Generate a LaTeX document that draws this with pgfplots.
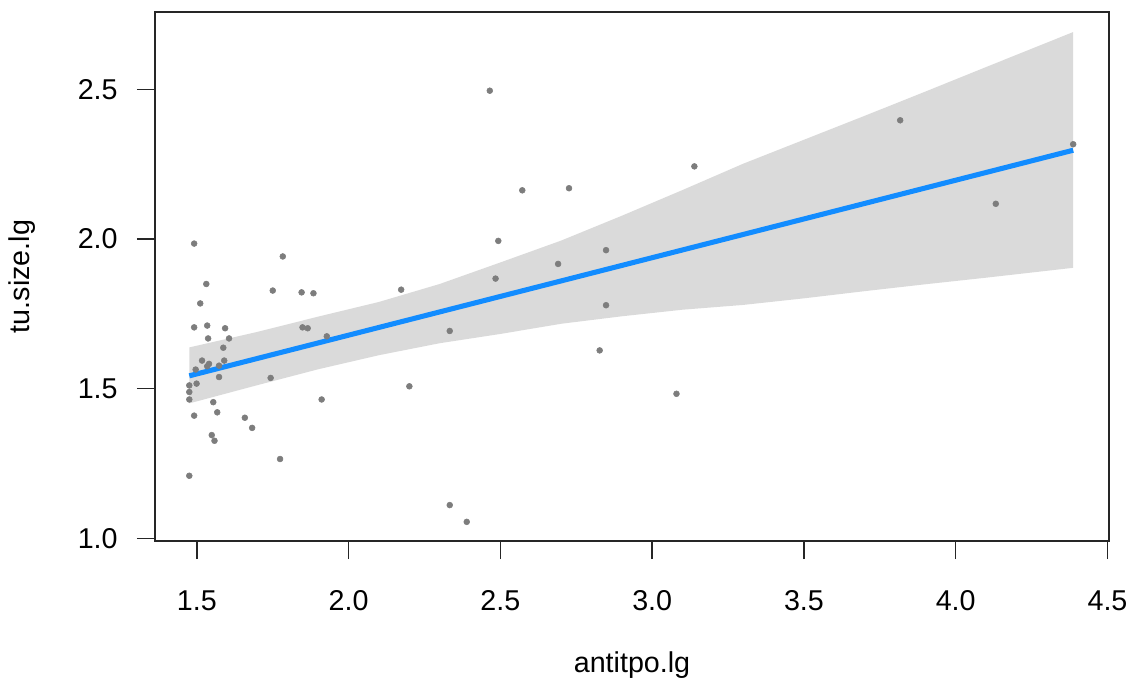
\documentclass[border=0pt]{standalone}
\usepackage{pgfplots}
\pgfplotsset{compat=1.18}
\usepackage{fontspec}
\setmainfont{Liberation Sans}
\definecolor{bandgray}{RGB}{218,218,218}
\definecolor{ptgray}{RGB}{125,125,125}
\definecolor{fitblue}{RGB}{18,140,255}
\begin{document}
\begin{tikzpicture}[x=0.75pt,y=0.75pt]
\path[use as bounding box] (-155,-143) rectangle (982,541);
\begin{axis}[
  at={(0,0)}, anchor=south west,
  scale only axis, width=715.5pt, height=396.75pt,
  xmin=1.362, xmax=4.505, ymin=0.991, ymax=2.759,
  axis line style={line width=1.3pt, black!85},
  tick style={line width=1.1pt, black!85},
  tick align=outside, major tick length=13.5pt,
  xtick={1.5,2.0,...,4.5}, ytick={1.0,1.5,2.0,2.5},
  xticklabels={1.5,2.0,2.5,3.0,3.5,4.0,4.5},
  yticklabels={1.0,1.5,2.0,2.5},
  xtick pos=bottom, ytick pos=left,
  ticklabel style={font=\fontsize{21.5}{25}\selectfont},
  xticklabel style={yshift=-20pt},
  yticklabel style={xshift=-11pt},
  label style={font=\fontsize{21.5}{25}\selectfont},
  xlabel={antitpo.lg}, ylabel={tu.size.lg},
  xlabel style={at={(axis description cs:0.5,-0.2344)}, anchor=center},
  ylabel style={at={(axis description cs:-0.1394,0.5)}, anchor=center},
  clip=false,
]
\addplot[draw=none, fill=bandgray] coordinates {
 (1.475,1.638) (1.7,1.690) (1.9,1.741) (2.1,1.790) (2.3,1.850) (2.5,1.922) (2.7,1.995) (2.9,2.078) (3.1,2.164) (3.3,2.252) (3.5,2.332) (3.7,2.412) (3.9,2.493) (4.1,2.575) (4.387,2.692)
 (4.387,1.904) (4.1,1.871) (3.9,1.849) (3.7,1.826) (3.5,1.802) (3.3,1.780) (3.1,1.764) (2.9,1.742) (2.7,1.717) (2.5,1.683) (2.3,1.652) (2.1,1.612) (1.9,1.565) (1.7,1.512) (1.475,1.451)
} -- cycle;
\addplot[only marks, mark=*, mark size=2.2pt, mark options={draw=ptgray, fill=ptgray}] table {
x y
1.491 1.985
1.783 1.942
1.531 1.850
1.750 1.828
1.845 1.822
1.884 1.819
1.511 1.785
1.491 1.705
1.534 1.711
1.593 1.702
1.848 1.705
1.865 1.702
1.537 1.668
1.606 1.668
1.928 1.675
1.587 1.637
1.517 1.594
1.590 1.594
1.540 1.583
1.534 1.575
1.496 1.564
1.573 1.577
1.573 1.539
1.499 1.517
1.475 1.511
1.475 1.489
1.475 1.464
1.743 1.536
1.911 1.464
1.554 1.455
1.491 1.410
1.567 1.421
1.658 1.403
1.682 1.369
1.549 1.345
1.558 1.326
1.774 1.265
1.475 1.209
2.465 2.496
3.139 2.243
2.572 2.163
2.726 2.170
2.493 1.994
2.848 1.963
2.690 1.917
2.484 1.868
2.173 1.831
2.848 1.779
2.333 1.693
2.827 1.628
2.200 1.508
3.080 1.483
2.333 1.111
2.389 1.055
3.817 2.397
4.387 2.317
4.132 2.118
};
\addplot[fitblue, line width=3.8pt] coordinates {(1.475,1.543) (4.387,2.297)};
\end{axis}
\end{tikzpicture}
\end{document}
